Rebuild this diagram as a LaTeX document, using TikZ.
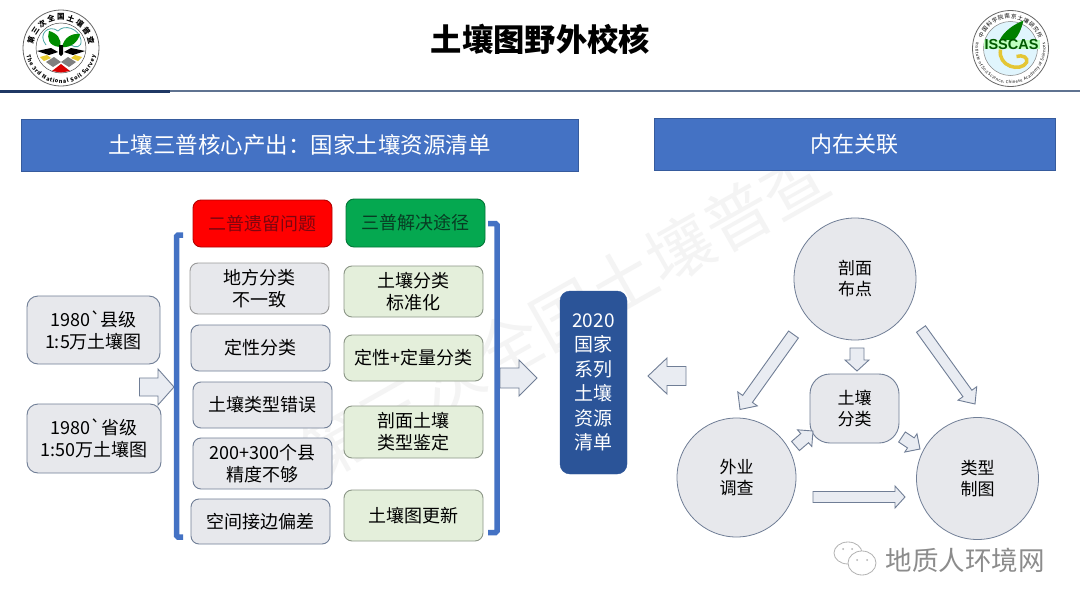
\documentclass[tikz,border=0pt]{standalone}
\usepackage{fontspec}
\setmainfont{Noto Sans CJK SC}
\newfontfamily\plainfont{Noto Sans CJK SC}
\newfontfamily\latinbold{Liberation Sans}
\usetikzlibrary{calc,decorations.text}
\definecolor{headblue}{RGB}{68,114,196}
\definecolor{navyblue}{RGB}{43,84,152}
\definecolor{ruledark}{RGB}{31,56,100}
\definecolor{ruleslate}{RGB}{95,115,145}
\definecolor{edgeblue}{RGB}{112,126,150}
\definecolor{fillgrey}{RGB}{231,232,236}
\definecolor{filllime}{RGB}{228,239,219}
\definecolor{edgelime}{RGB}{140,150,135}
\definecolor{arrowfill}{RGB}{233,236,242}
\definecolor{redtext}{RGB}{125,5,15}
\definecolor{greenhead}{RGB}{5,168,80}
\definecolor{greentext}{RGB}{8,60,35}
\definecolor{markfaint}{RGB}{244,244,244}
\tikzset{
  headbar/.style={fill=headblue,draw=headblue!80!black,line width=0.6pt,text=white,inner sep=0pt},
  listbox/.style={rounded corners=8pt,line width=0.9pt,minimum width=139pt,inner sep=0pt,align=center,text=black,font=\fontsize{18}{22}\selectfont},
  greybox/.style={listbox,fill=fillgrey,draw=edgeblue},
  limebox/.style={listbox,fill=filllime,draw=edgelime},
  linkcircle/.style={circle,fill=fillgrey,draw=edgeblue,line width=0.8pt,inner sep=0pt,align=center,text=black,font=\fontsize{17}{21}\selectfont},
  bracketline/.style={draw=headblue,line width=5.5pt,rounded corners=1.5pt},
  arrowline/.style={fill=arrowfill,draw=edgeblue,line width=0.9pt,line join=miter},
}
% from, to, half shaft, half head, head length
\newcommand{\blockarrow}[5]{
  \coordinate (hb) at ($(#2)!#5pt!(#1)$);
  \draw[arrowline] ($(#1)!#3pt!90:(#2)$)--($(hb)!#3pt!90:(#2)$)--($(hb)!#4pt!90:(#2)$)
    --(#2)--($(hb)!#4pt!-90:(#2)$)--($(hb)!#3pt!-90:(#2)$)--($(#1)!#3pt!-90:(#2)$)--cycle;
}
\begin{document}
\begin{tikzpicture}[x=1pt,y=-1pt]
  \useasboundingbox (0,0) rectangle (1080,608);
  \fill[white] (0,0) rectangle (1080,608);
  \node[rotate=29.5,text=markfaint,font=\fontsize{66}{66}\selectfont,inner sep=0pt] (mark) at (565,314) {第三次全国土壤普查};
  %top of the slide
  \node[font=\fontsize{31.3}{31}\bfseries\selectfont,text=black,inner sep=0pt] (title) at (540.5,39) {土壤图野外校核};
  \draw[ruleslate,line width=2pt] (0,91)--(1080,91);
  \draw[ruledark,line width=3pt] (0,91)--(170,91);
  \node[headbar,minimum width=557pt,minimum height=52pt,font=\fontsize{22.5}{22}\selectfont] (headleft) at (299.5,145) {土壤三普核心产出：国家土壤资源清单};
  \node[headbar,minimum width=401pt,minimum height=52pt,font=\fontsize{22}{22}\selectfont] (headright) at (854.5,144) {内在关联};
  %left logo
  \begin{scope}[shift={(61,48)},y=1pt]
    \draw[fill=white,draw=black!60,line width=0.8pt] (0,0) circle (38);
    \draw[black!70,line width=0.5pt] (0,0) circle (25);
    \path[decorate,decoration={text along path,text align={fit to path},raise=-3pt,
      text={|\fontsize{7.5}{7.5}\bfseries\selectfont|第三次全国土壤普查}}] (172:31) arc[start angle=172,end angle=8,radius=31];
    \path[decorate,decoration={text along path,text align={fit to path},raise=-3pt,
      text={|\fontsize{5.5}{5.5}\bfseries\selectfont|The 3rd National Soil Survey}}] (192:32.5) arc[start angle=192,end angle=348,radius=32.5];
    \draw[teal!70,line width=0.8pt] (-15,3) ..controls (-24,14) and (-12,24) .. (-3,17) ..controls (3,24) and (18,20) .. (20,8) ..controls (21,0) and (14,0) .. (10,3);
    \fill[green!55!black] (-1,1) ..controls (-13,2) and (-14,10) .. (-12,17) ..controls (-4,15) and (1,9) .. (-1,1);
    \fill[green!55!black] (1,1) ..controls (3,10) and (10,15) .. (19,14) ..controls (17,6) and (10,0) .. (1,1);
    \fill[black] (-24,-3)--(-10,0)--(-3,-4)--(-12,-7)--cycle;
    \fill[black] (24,-3)--(10,0)--(3,-4)--(12,-7)--cycle;
    \fill[black] (-2,3)--(2,3)--(2,-6)--(0,-8)--(-2,-6)--cycle;
    \fill[yellow!60!brown] (-21,-9)--(-14,-7)--(-10,-10)--(-17,-13)--cycle;
    \fill[yellow!60!brown] (21,-9)--(14,-7)--(10,-10)--(17,-13)--cycle;
    \fill[black!50] (-15,-14)--(-7,-9)--(0,-14)--(-8,-19)--cycle;
    \fill[black!50] (15,-14)--(7,-9)--(0,-14)--(8,-19)--cycle;
    \fill[red!85!black] (-9,-23)--(0,-16)--(9,-23)--(0,-24.5)--cycle;
  \end{scope}
  %right logo
  \begin{scope}[shift={(1010.5,48.5)},y=1pt]
    \draw[fill=white,draw=black!60,line width=0.8pt] (0,0) circle (38);
    \draw[fill=cyan!12,draw=black!50,line width=0.5pt] (0,0) circle (27);
    \path[decorate,decoration={text along path,text align={fit to path},raise=-2pt,
      text={|\fontsize{5.5}{5.5}\selectfont|中国科学院南京土壤研究所}}] (160:32) arc[start angle=160,end angle=20,radius=32];
    \path[decorate,decoration={text along path,text align={fit to path},raise=-2pt,
      text={|\fontsize{4.2}{4.2}\selectfont|Institute of Soil Science, Chinese Academy of Sciences}}] (170:33) arc[start angle=170,end angle=370,radius=33];
    \draw[yellow!55!brown,line width=3.5pt] (-10,-1) ..controls (-13,-18) and (10,-24) .. (16,-14) ..controls (18,-9) and (12,-6) .. (6,-8);
    \fill[green!50!black] (-11,8) ..controls (-7,17) and (3,24) .. (13,28) ..controls (11,20) and (8,12) .. (3,8)--cycle;
    \fill[green!25!white] (-27,8.5) rectangle (29,-0.5);
    \node[font=\latinbold\fontsize{14.5}{14.5}\bfseries\selectfont,text=green!35!black,inner sep=0pt] (isscas) at (1,4) {ISSCAS};
  \end{scope}
  %arrows between the columns
  \coordinate (feedtail) at (139.5,387);
  \coordinate (feedtip) at (174,387);
  \coordinate (outtail) at (500,378);
  \coordinate (outtip) at (537,378);
  \coordinate (linktail) at (686,376);
  \coordinate (linktip) at (648,376);
  \blockarrow{feedtail}{feedtip}{9}{18}{16}
  \blockarrow{outtail}{outtip}{10}{18}{18}
  \blockarrow{linktail}{linktip}{9.5}{18}{19}
  \draw[bracketline] (183,235)--(176.5,235)--(176.5,537)--(183,537);
  \draw[bracketline] (488,223.5)--(497,223.5)--(497,532.5)--(488,532.5);
  %source maps
  \node[greybox,minimum width=133pt,minimum height=68pt,rounded corners=11pt] (county) at (93.5,330) {1980{\plainfont`}县级\\1:5万土壤图};
  \node[greybox,minimum width=134pt,minimum height=69pt,rounded corners=11pt] (province) at (94,438.5) {1980{\plainfont`}省级\\1:50万土壤图};
  %problems column
  \node[listbox,fill=red,draw=red!70!black,minimum height=47pt,text=redtext] (oldhead) at (262.5,223.5) {二普遗留问题};
  \node[greybox,draw=black!40,minimum height=51pt] (oldone) at (259.5,288.5) {地方分类\\不一致};
  \node[greybox,minimum height=46pt] (oldtwo) at (260.5,348) {定性分类};
  \node[greybox,minimum height=46pt] (oldthree) at (262.5,405) {土壤类型错误};
  \node[greybox,minimum height=51pt] (oldfour) at (262.5,463.5) {200+300个县\\精度不够};
  \node[greybox,minimum height=45pt] (oldfive) at (260.5,521.5) {空间接边偏差};
  %solutions column
  \node[listbox,fill=greenhead,draw=greenhead!70!black,minimum height=48pt,text=greentext] (newhead) at (415.5,223) {三普解决途径};
  \node[limebox,minimum height=51pt] (newone) at (413.5,291.5) {土壤分类\\标准化};
  \node[limebox,minimum height=46pt] (newtwo) at (413.5,358) {定性+定量分类};
  \node[limebox,minimum height=52pt] (newthree) at (413.5,432) {剖面土壤\\类型鉴定};
  \node[limebox,minimum height=51pt] (newfour) at (413.5,515.5) {土壤图更新};
  %result
  \node[fill=navyblue,draw=navyblue,rounded corners=10pt,minimum width=67pt,minimum height=183pt,inner sep=0pt,align=center,text=white,font=\fontsize{19}{24.5}\selectfont] (result) at (593.5,382.5) {2020\\国家\\系列\\土壤\\资源\\清单};
  %triangle of work steps
  \node[linkcircle,minimum size=122pt] (profile) at (855,279) {剖面\\布点};
  \node[linkcircle,minimum size=119pt] (survey) at (736.5,477.5) {外业\\调查};
  \node[linkcircle,minimum size=122pt] (mapping) at (977.5,478.5) {类型\\制图};
  \node[greybox,minimum width=89pt,minimum height=69pt,rounded corners=20pt,font=\fontsize{17}{21}\selectfont] (soilclass) at (854.5,408.5) {土壤\\分类};
  \coordinate (aone) at (793.5,334.5);
  \coordinate (atwo) at (740,409.5);
  \coordinate (bone) at (921,329);
  \coordinate (btwo) at (975,404);
  \coordinate (cone) at (857,348);
  \coordinate (ctwo) at (857,371);
  \coordinate (done) at (795.5,446);
  \coordinate (dtwo) at (813,431);
  \coordinate (eone) at (902,437);
  \coordinate (etwo) at (920,449);
  \coordinate (fone) at (813,497);
  \coordinate (ftwo) at (905,497);
  \blockarrow{aone}{atwo}{6}{12}{13}
  \blockarrow{bone}{btwo}{5.5}{11.5}{13}
  \blockarrow{cone}{ctwo}{7}{12}{11}
  \blockarrow{done}{dtwo}{6}{11}{11}
  \blockarrow{eone}{etwo}{6}{11}{11}
  \blockarrow{fone}{ftwo}{5.5}{11}{10}
  %account mark
  \draw[black!30,line width=0.8pt] (848,553) ellipse (14 and 11);
  \draw[black!30,fill=white,line width=0.8pt] (862,563) ellipse (14 and 12);
  \fill[black!30] (857,560) circle (1) (867,560) circle (1) (843,549) circle (1) (852,549) circle (1);
  \node[text=black!45,font=\fontsize{26.5}{26}\selectfont,inner sep=0pt] (account) at (965,560) {地质人环境网};
\end{tikzpicture}
\end{document}
